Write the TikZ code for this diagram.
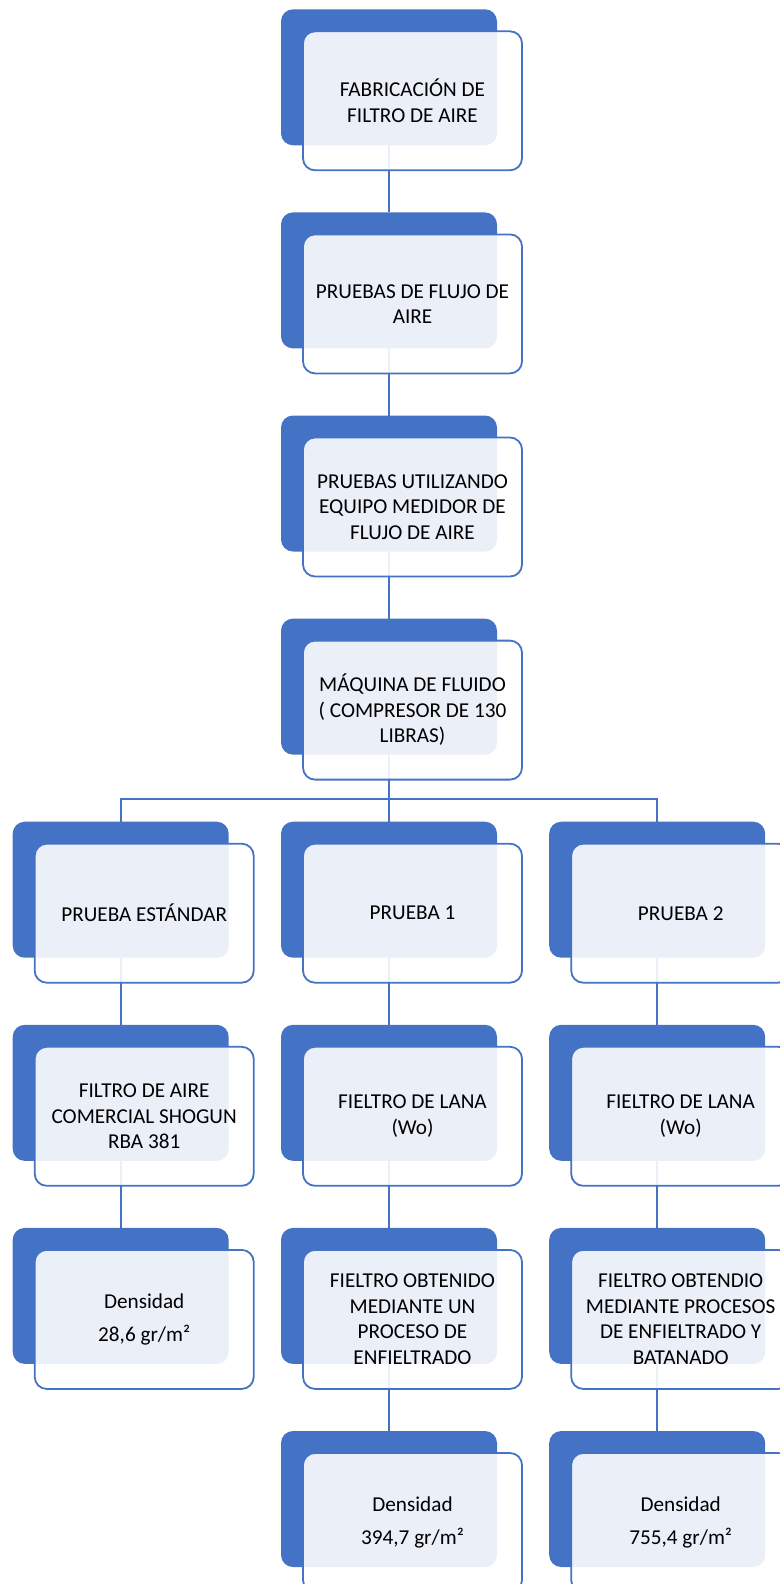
\documentclass[tikz,border=0pt]{standalone}
\usepackage{fontspec}
\setmainfont{Carlito}
\usetikzlibrary{backgrounds}
\definecolor{accblue}{HTML}{4472C4}
\tikzset{
  bluebox/.style={draw=none,fill=accblue,rounded corners=12pt,minimum width=216pt,minimum height=136pt,inner sep=0pt,outer sep=0pt},
  outbox/.style={draw=accblue,line width=1.8pt,fill=white,fill opacity=0.89,text opacity=1,rounded corners=12pt,minimum width=219pt,minimum height=139pt,inner sep=0pt,outer sep=0pt,align=center,font=\fontsize{21.2}{25.5}\selectfont,text=black},
  conn/.style={draw=accblue,line width=2pt}
}
% #1 name, #2 blue left x, #3 blue top y, #4 text
\newcommand{\procbox}[4]{%
  \node[bluebox] (#1b) at ({#2+108},{#3+68}) {};
  \node[outbox] (#1) at ({#2+22+109.5},{#3+22+69.5}) {#4};
}
\begin{document}
\begin{tikzpicture}[x=1pt,y=-1pt]
\useasboundingbox (0,0) rectangle (779,1584);
\procbox{ra}{281}{9.3}{FABRICACIÓN DE\\FILTRO DE AIRE}
\procbox{rb}{281}{212.4}{PRUEBAS DE FLUJO DE\\AIRE}
\procbox{rc}{281}{415.5}{PRUEBAS UTILIZANDO\\EQUIPO MEDIDOR DE\\FLUJO DE AIRE}
\procbox{rd}{281}{618.6}{MÁQUINA DE FLUIDO\\( COMPRESOR DE 130\\LIBRAS)}
\procbox{la}{12.7}{821.7}{PRUEBA ESTÁNDAR}
\procbox{ma}{281}{821.7}{PRUEBA 1}
\procbox{na}{549.2}{821.7}{PRUEBA 2}
\procbox{lb}{12.7}{1024.8}{FILTRO DE AIRE\\COMERCIAL SHOGUN\\RBA 381}
\procbox{mb}{281}{1024.8}{FIELTRO DE LANA\\(Wo)}
\procbox{nb}{549.2}{1024.8}{FIELTRO DE LANA\\(Wo)}
\procbox{lc}{12.7}{1227.9}{Densidad\\[8pt]28,6 gr/m²}
\procbox{mc}{281}{1227.9}{FIELTRO OBTENIDO\\MEDIANTE UN\\PROCESO DE\\ENFIELTRADO}
\procbox{nc}{549.2}{1227.9}{FIELTRO OBTENDIO\\MEDIANTE PROCESOS\\DE ENFIELTRADO Y\\BATANADO}
\procbox{md}{281}{1431}{Densidad\\[8pt]394,7 gr/m²}
\procbox{nd}{549.2}{1431}{Densidad\\[8pt]755,4 gr/m²}
\coordinate (bj) at (389,799);
\begin{pgfonlayer}{background}
\draw[conn] (rab.south) -- (rbb.north);
\draw[conn] (rbb.south) -- (rcb.north);
\draw[conn] (rcb.south) -- (rdb.north);
\draw[conn] (rdb.south) -- (bj);
\draw[conn] (lab.north) |- (bj) -| (nab.north);
\draw[conn] (bj) -- (mab.north);
\draw[conn] (lab.south) -- (lbb.north);
\draw[conn] (lbb.south) -- (lcb.north);
\draw[conn] (mab.south) -- (mbb.north);
\draw[conn] (mbb.south) -- (mcb.north);
\draw[conn] (mcb.south) -- (mdb.north);
\draw[conn] (nab.south) -- (nbb.north);
\draw[conn] (nbb.south) -- (ncb.north);
\draw[conn] (ncb.south) -- (ndb.north);
\end{pgfonlayer}
\end{tikzpicture}
\end{document}
